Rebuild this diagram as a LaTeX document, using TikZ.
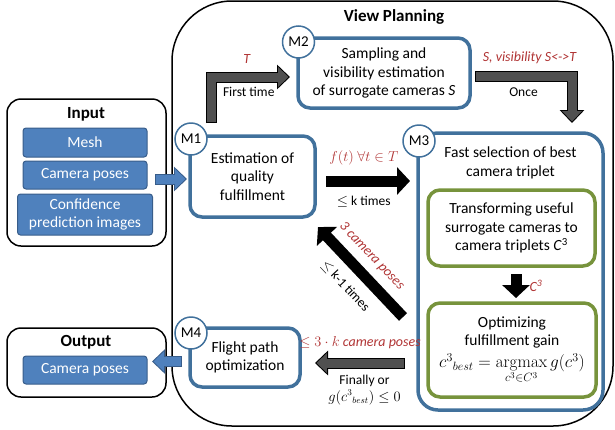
\documentclass[tikz,border=0pt]{standalone}
\usepackage[no-math]{fontspec}
\setmainfont{Carlito}
\usetikzlibrary{positioning,arrows.meta}

\definecolor{boxblue}{RGB}{65,113,156}
\definecolor{itemblue}{RGB}{79,129,189}
\definecolor{itemborder}{RGB}{56,93,138}
\definecolor{stepgreen}{RGB}{119,147,60}
\definecolor{notered}{RGB}{176,52,52}
\definecolor{arrowgray}{RGB}{80,80,80}

\tikzset{
  boxtext/.style={align=center, inner sep=0pt, font=\fontsize{15.5}{18.5}\selectfont},
  module/.style={draw=boxblue, line width=3.5pt, rounded corners=12pt, outer sep=0pt, align=center, font=\fontsize{15.5}{18.5}\selectfont},
  substep/.style={module, draw=stepgreen},
  tag/.style={circle, draw=boxblue, line width=1.5pt, fill=white, minimum size=32pt, inner sep=0pt, font=\fontsize{15}{18}\selectfont},
  frame/.style={draw, line width=1.5pt, outer sep=0pt},
  item/.style={fill=itemblue, draw=itemborder, line width=1pt, rounded corners=3pt, outer sep=0pt, text=white, align=center, minimum width=124pt, minimum height=28pt, inner sep=2pt, font=\fontsize{15.5}{18.5}\selectfont},
  heading/.style={font=\fontsize{17}{20}\selectfont\bfseries},
  note/.style={align=center, inner sep=0pt, font=\fontsize{13.5}{16.5}\selectfont},
  rednote/.style={text=notered, inner sep=0pt, font=\fontsize{14}{17}\selectfont\itshape},
  rim/.style={line width=11pt, line join=miter, -{Triangle[length=13pt,width=24pt]}},
  core/.style={line width=9pt, line join=miter, shorten <=1pt, shorten >=1.47pt, -{Triangle[length=10.5pt,width=19.4pt]}},
  fat/.style={line width=11pt, -{Triangle[length=13pt,width=27pt]}},
}

\begin{document}
\begin{tikzpicture}[x=1pt, y=-1pt]
    \useasboundingbox (0,0) rectangle (615,429);

    % Add the frames
    \node[frame, rounded corners=60pt, minimum width=441pt, minimum height=425pt] (planning) at (392.5,213.5) {};
    \node[heading] (planningtitle) at (394,17) {View Planning};
    \node[frame, rounded corners=14pt, minimum width=159pt, minimum height=147pt] (input) at (86.5,172.5) {};
    \node[heading] (inputtitle) at (86,114) {Input};
    \node[item, minimum height=29pt] (mesh) at (85,142.5) {Mesh};
    \node[item, below=4pt of mesh] (inposes) {Camera poses};
    \node[item, below=5pt of inposes, minimum width=135pt, minimum height=41pt] (confidence) {Confidence\\prediction images};
    \node[frame, rounded corners=14pt, minimum width=159pt, minimum height=69pt] (output) at (86.5,362.5) {};
    \node[heading] (outputtitle) at (86,342) {Output};
    \node[item] (outposes) at (85,370) {Camera poses};

    % Add the modules
    \node[module, minimum width=125pt, minimum height=81pt] (m1) at (252.5,176.5) {Estimation of\\quality\\fulfillment};
    \node[module, minimum width=172pt, minimum height=70pt] (m2) at (384,73) {Sampling and\\visibility estimation\\of surrogate cameras \textit{S}};
    \node[module, rounded corners=20pt, minimum width=185pt, minimum height=277pt] (m3) at (510.5,271.5) {};
    \node[boxtext, below=14pt of m3.north] (m3title) {Fast selection of best\\camera triplet};
    \node[substep, minimum width=167pt, minimum height=76pt] (triplets) at (511.5,228) {Transforming useful\\surrogate cameras to\\camera triplets \textit{C}\textsuperscript{3}};
    \node[substep, minimum width=168pt, minimum height=94pt] (gain) at (512,350) {Optimizing\\fulfillment gain\\[3pt]{\fontsize{17.5}{20}\selectfont$c^{3}{}_{best} = \mathop{\mathrm{argmax}}\limits_{c^{3}\in C^{3}} g(c^{3})$}};
    \node[module, minimum width=110pt, minimum height=59pt] (m4) at (245,357.5) {Flight path\\optimization};

    % Add the tags
    \node[tag] (m1tag) at ([shift={(1,3)}]m1.north west) {M1};
    \node[tag] (m2tag) at ([shift={(0.5,4)}]m2.north west) {M2};
    \node[tag] (m3tag) at ([shift={(1,8)}]m3.north west) {M3};
    \node[tag] (m4tag) at ([shift={(1,5)}]m4.north west) {M4};

    % Arrow end points
    \path (input.east |- m1.west) ++(-11,2.5) coordinate (in1);
    \path (in1 -| m1.west) ++(-3,0) coordinate (in2);
    \coordinate (e1a) at ([shift={(-41,-13)}]m1.north);
    \coordinate (e1b) at ([shift={(-8,4)}]m2.west);
    \coordinate (e2a) at ([shift={(5,3)}]m2.east);
    \coordinate (e2b) at ([shift={(61.5,-10)}]m3.north);
    \coordinate (f1) at ([shift={(11,4.5)}]m1.east);
    \path (f1 -| m3.west) ++(-8,0) coordinate (f2);
    \coordinate (d1) at ([shift={(-15,45.5)}]m3.west);
    \coordinate (d2) at ([shift={(3,10)}]m1.south east);
    \coordinate (g2) at ([shift={(15,5.5)}]m4.east);
    \path (g2 -| m3.west) ++(-13,0) coordinate (g1);
    \coordinate (o1) at ([shift={(-8,4)}]m4.west);
    \path (o1 -| output.east) ++(-14,0) coordinate (o2);
    \coordinate (c1) at ([shift={(4.5,8)}]triplets.south);
    \coordinate (c2) at ([shift={(4,-5)}]gain.north);

    % Connect the modules with arrows
    \draw[rim, draw=itemborder] (in1) -- (in2);
    \draw[core, draw=itemblue] (in1) -- (in2);
    \draw[rim, draw=black] (e1a) |- (e1b);
    \draw[core, draw=arrowgray] (e1a) |- (e1b)
        node[rednote, pos=0.75, xshift=-4pt, yshift=18pt] {T}
        node[note, pos=0.75, xshift=-2pt, yshift=-15pt] {First time};
    \draw[rim, draw=black] (e2a) -| (e2b);
    \draw[core, draw=arrowgray] (e2a) -| (e2b)
        node[rednote, pos=0.25, xshift=6pt, yshift=18pt] {S, visibility S<->T}
        node[note, pos=0.25, yshift=-16pt] {Once};
    \draw[fat] (f1) -- (f2)
        node[text=notered, inner sep=0pt, font=\fontsize{15}{18}\selectfont, pos=0.45, yshift=23pt] {$f(t)\ \forall t\in T$}
        node[note, pos=0.45, yshift=-21pt] {$\leq$ k times};
    \draw[fat] (d1) -- (d2)
        node[rednote, pos=0.53, sloped, yshift=19pt] {3 camera poses}
        node[note, midway, sloped, yshift=-21pt] {$\leq$ k-1 times};
    \draw[fat] (c1) -- (c2)
        node[rednote, midway, xshift=20pt] {C\textsuperscript{3}};
    \draw[rim, draw=black] (g1) -- (g2);
    \draw[core, draw=arrowgray] (g1) -- (g2)
        node[rednote, midway, yshift=20pt] {$\leq 3\cdot k$ camera poses}
        node[note, midway, xshift=4.5pt, yshift=-27pt] {Finally or\\$g(c^{3}{}_{best})\leq 0$};
    \draw[rim, draw=itemborder] (o1) -- (o2);
    \draw[core, draw=itemblue] (o1) -- (o2);

\end{tikzpicture}
\end{document}
